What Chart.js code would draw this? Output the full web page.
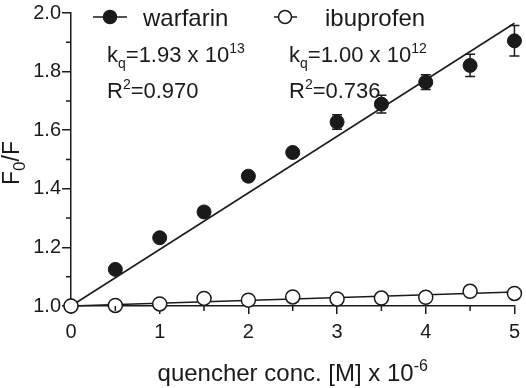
<!DOCTYPE html>
<html>
<head>
<meta charset="utf-8">
<script src="https://cdn.jsdelivr.net/npm/chart.js@4/dist/chart.umd.min.js"></script>
<style>
  body { margin: 0; background: #fff; }
  #wrap { width: 526px; height: 388px; }
</style>
</head>
<body>
<div id="wrap"><canvas id="chart"></canvas></div>
<script>
// data
const conc = [0, 0.5, 1, 1.5, 2, 2.5, 3, 3.5, 4, 4.5, 5];
const warfarin = [1.0, 1.125, 1.233, 1.321, 1.443, 1.524, 1.628, 1.689, 1.764, 1.821, 1.905];
const warfarinErr = [0, 0, 0, 0.012, 0, 0.008, 0.025, 0.03, 0.025, 0.038, 0.052];
const ibuprofen = [1.0, 1.002, 1.007, 1.026, 1.02, 1.031, 1.024, 1.027, 1.03, 1.05, 1.043];
const fitX = [0, 5];
const warfarinFit = [1.0, 1.965];
const ibuprofenFit = [1.0, 1.048];
const xMinorTicks = [0.5, 1.5, 2.5, 3.5, 4.5];
const yMinorTicks = [1.1, 1.3, 1.5, 1.7, 1.9];

const FONT = "'Liberation Sans', Arial, sans-serif";
const INK = '#1a1a1a';

const pts = (xs, ys) => xs.map((x, i) => ({ x: x, y: ys[i] }));

// text with sub/superscripts: parts = [[text, 'n'|'sub'|'sup'], ...]
function richText(c, parts, x, y, size, align, scale) {
    const small = Math.round(size * (scale || 0.65));
    const widths = parts.map(p => {
        c.font = (p[1] === 'n' ? size : small) + 'px ' + FONT;
        return c.measureText(p[0]).width;
    });
    const total = widths.reduce((a, b) => a + b, 0);
    let cx = align === 'center' ? x - total / 2 : x;
    parts.forEach((p, i) => {
        c.font = (p[1] === 'n' ? size : small) + 'px ' + FONT;
        let dy = 0;
        if (p[1] === 'sup') dy = -size * 0.42;
        if (p[1] === 'sub') dy = size * 0.25;
        c.fillText(p[0], cx, y + dy);
        cx += widths[i];
    });
}

const extras = {
    id: 'extras',
    beforeDatasetsDraw(chart) {
        const c = chart.ctx, xs = chart.scales.x, ys = chart.scales.y;
        c.save();
        c.strokeStyle = INK;
        c.lineWidth = 1.5;
        warfarinErr.forEach((e, i) => {
            if (!e) return;
            const px = xs.getPixelForValue(conc[i]);
            const top = ys.getPixelForValue(warfarin[i] + e);
            const bot = ys.getPixelForValue(warfarin[i] - e);
            c.beginPath();
            c.moveTo(px, top); c.lineTo(px, bot);
            c.moveTo(px - 5, top); c.lineTo(px + 5, top);
            c.moveTo(px - 5, bot); c.lineTo(px + 5, bot);
            c.stroke();
        });
        c.restore();
    },
    afterDraw(chart) {
        const c = chart.ctx, xs = chart.scales.x, ys = chart.scales.y;
        const a = chart.chartArea;
        c.save();
        // minor ticks
        c.strokeStyle = INK;
        c.lineWidth = 1.5;
        c.beginPath();
        xMinorTicks.forEach(v => {
            const px = xs.getPixelForValue(v);
            c.moveTo(px, a.bottom); c.lineTo(px, a.bottom + 5);
        });
        yMinorTicks.forEach(v => {
            const py = ys.getPixelForValue(v);
            c.moveTo(a.left, py); c.lineTo(a.left - 5, py);
        });
        c.stroke();

        c.fillStyle = INK;
        c.textBaseline = 'alphabetic';
        c.textAlign = 'left';

        // legend
        const legend = [
            { x1: 93, x2: 127, cx: 110, fill: INK, label: 'warfarin', tx: 143 },
            { x1: 274, x2: 297, cx: 285, fill: '#fff', label: 'ibuprofen', tx: 325 }
        ];
        legend.forEach(l => {
            c.beginPath();
            c.moveTo(l.x1, 17); c.lineTo(l.x2, 17);
            c.stroke();
            c.beginPath();
            c.arc(l.cx, 17, 6.5, 0, Math.PI * 2);
            c.fillStyle = l.fill;
            c.fill();
            c.stroke();
            c.fillStyle = INK;
            c.font = '24px ' + FONT;
            c.fillText(l.label, l.tx, 26);
        });

        // annotations
        richText(c, [['k', 'n'], ['q', 'sub'], ['=1.93 x 10', 'n'], ['13', 'sup']], 107, 62, 22, 'left');
        richText(c, [['R', 'n'], ['2', 'sup'], ['=0.970', 'n']], 107, 98, 22, 'left');
        richText(c, [['k', 'n'], ['q', 'sub'], ['=1.00 x 10', 'n'], ['12', 'sup']], 289, 62, 22, 'left');
        richText(c, [['R', 'n'], ['2', 'sup'], ['=0.736', 'n']], 289, 98, 22, 'left');

        // axis titles
        richText(c, [['quencher conc. [M] x 10', 'n'], ['-6', 'sup']], (a.left + a.right) / 2, 381, 24, 'center');
        c.translate(19, 163);
        c.rotate(-Math.PI / 2);
        richText(c, [['F', 'n'], ['0', 'sub'], ['/F', 'n']], 0, 0, 23, 'center', 0.75);
        c.restore();
    }
};

new Chart(document.getElementById('chart'), {
    type: 'scatter',
    data: {
        datasets: [
            {
                label: 'ibuprofen',
                data: pts(conc, ibuprofen),
                pointRadius: 7,
                pointBackgroundColor: '#fff',
                pointBorderColor: INK,
                pointBorderWidth: 1.5,
                showLine: false,
                clip: false,
                order: 0
            },
            {
                label: 'warfarin',
                data: pts(conc, warfarin),
                pointRadius: 7,
                pointBackgroundColor: INK,
                pointBorderColor: INK,
                pointBorderWidth: 1,
                showLine: false,
                clip: false,
                order: 1
            },
            {
                label: 'warfarin fit',
                data: pts(fitX, warfarinFit),
                showLine: true,
                borderColor: INK,
                borderWidth: 1.5,
                pointRadius: 0,
                clip: false,
                order: 2
            },
            {
                label: 'ibuprofen fit',
                data: pts(fitX, ibuprofenFit),
                showLine: true,
                borderColor: INK,
                borderWidth: 1.5,
                pointRadius: 0,
                clip: false,
                order: 2
            }
        ]
    },
    options: {
        responsive: true,
        maintainAspectRatio: false,
        animation: false,
        layout: { padding: { top: 10, right: 9, left: 0, bottom: 0 } },
        plugins: { legend: { display: false }, tooltip: { enabled: false } },
        scales: {
            x: {
                type: 'linear',
                min: 0,
                max: 5,
                border: { color: INK, width: 1.5 },
                grid: { drawOnChartArea: false, drawTicks: true, tickLength: 8, color: INK, lineWidth: 1.5 },
                ticks: {
                    stepSize: 1,
                    color: INK,
                    padding: 6,
                    font: { family: FONT, size: 20 },
                    maxRotation: 0,
                    autoSkip: false
                },
                afterFit: s => { s.height = 82; }
            },
            y: {
                min: 1.0,
                max: 2.0,
                border: { color: INK, width: 1.5 },
                grid: { drawOnChartArea: false, drawTicks: true, tickLength: 9, color: INK, lineWidth: 1.5 },
                ticks: {
                    stepSize: 0.2,
                    color: INK,
                    padding: 1,
                    font: { family: FONT, size: 20 },
                    autoSkip: false,
                    callback: v => v.toFixed(1)
                },
                afterFit: s => { s.width = 71; }
            }
        }
    },
    plugins: [extras]
});
</script>
</body>
</html>
